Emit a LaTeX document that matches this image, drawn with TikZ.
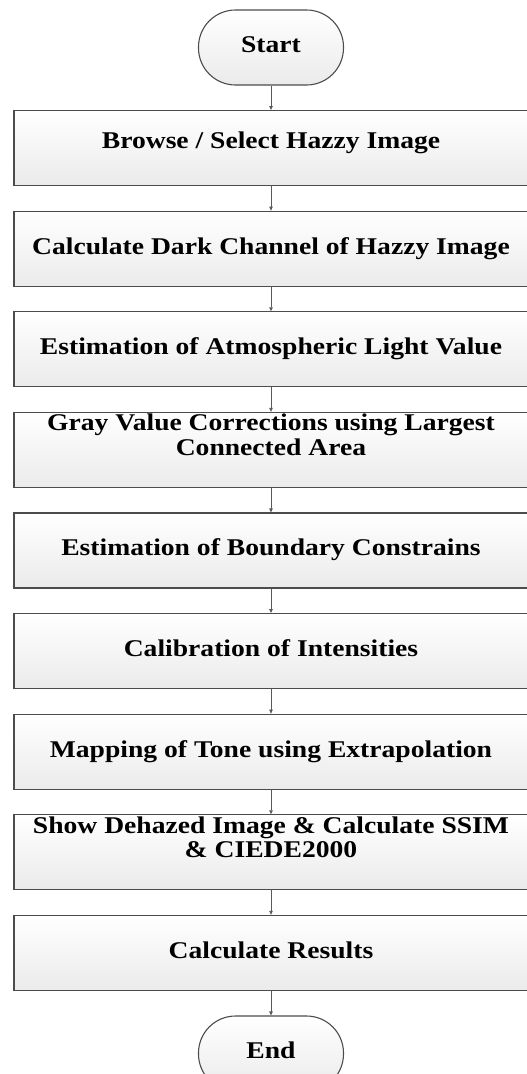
\documentclass[tikz,border=0pt]{standalone}
\usepackage{fontspec}
\setmainfont{Liberation Serif}
\newfontfamily\boxfont{Liberation Serif}[FakeStretch=1.15]
\usetikzlibrary{positioning,arrows.meta}

\tikzset{
  stepbox/.style = {draw=black!70, line width=1.1pt, top color=white, bottom color=black!8,
                    minimum width=514pt, minimum height=75pt, align=center,
                    text height=13pt, text depth=2.1pt,
                    font=\boxfont\fontsize{24}{24.5}\selectfont\bfseries},
  raised/.style  = {text height=10pt, text depth=10pt},
  term/.style    = {stepbox, minimum width=145pt, rounded corners=37pt},
  flow/.style    = {draw=black!65, line width=0.8pt, -{Triangle[length=4pt, width=3.5pt]}}
}

\begin{document}
\begin{tikzpicture}[node distance=24.5pt]
                \useasboundingbox (0,0) rectangle (527pt,-1074pt);
                % steps
                \node[term](start)at(271pt,-47.5pt){Start};
                \node[stepbox, raised, below=of start](browse){Browse / Select Hazzy Image};
                \node[stepbox, below=of browse](dark){Calculate Dark Channel of Hazzy Image};
                \node[stepbox, below=of dark](atmo){Estimation of Atmospheric Light Value};
                \node[stepbox, below=of atmo](gray){Gray Value Corrections using Largest\\Connected Area};
                \node[stepbox, below=of gray](bound){Estimation of Boundary Constrains};
                \node[stepbox, below=of bound](calib){Calibration of Intensities};
                \node[stepbox, below=of calib](tone){Mapping of Tone using Extrapolation};
                \node[stepbox, below=of tone](show){Show Dehazed Image \& Calculate SSIM\\\& CIEDE2000};
                \node[stepbox, below=of show](res){Calculate Results};
                \node[term, below=of res](end){End};
                % arrows
                \path[flow](start)to(browse);
                \path[flow](browse)to(dark);
                \path[flow](dark)to(atmo);
                \path[flow](atmo)to(gray);
                \path[flow](gray)to(bound);
                \path[flow](bound)to(calib);
                \path[flow](calib)to(tone);
                \path[flow](tone)to(show);
                \path[flow](show)to(res);
                \path[flow](res)to(end);
            \end{tikzpicture}
\end{document}
